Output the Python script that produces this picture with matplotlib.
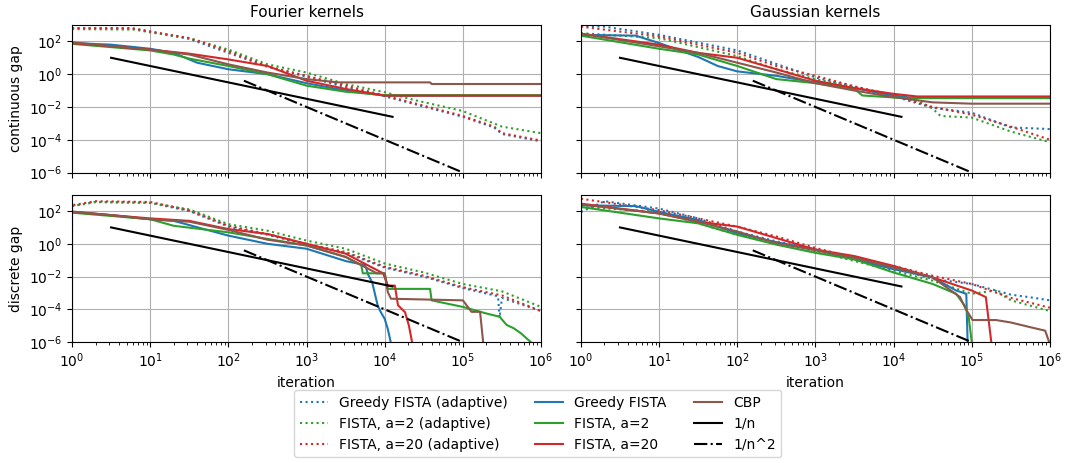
import numpy as np
from matplotlib import pyplot as plt

#############################################
# values as (log10 iteration, log10 gap)
#############################################

# Fourier kernels, continuous gap
fc_greedy_ad = [(0, 2.8), (0.8, 2.78), (1.0, 2.6), (1.5, 2.15), (2.0, 1.3), (2.5, 0.45), (3.0, -0.15),
                (3.5, -0.8), (4.0, -1.35), (4.4, -1.85), (5.0, -2.6), (5.4, -3.25), (5.5, -3.65), (6.0, -4.1)]
fc_fista2_ad = [(0, 2.75), (0.8, 2.72), (1.0, 2.55), (1.5, 2.2), (2.0, 1.5), (2.5, 0.6), (3.0, 0.1),
                (3.5, -0.6), (4.0, -1.1), (4.4, -1.6), (5.0, -2.25), (5.5, -3.2), (6.0, -3.6)]
fc_fista20_ad = [(0, 2.81), (0.75, 2.81), (1.0, 2.6), (1.5, 2.2), (2.0, 1.4), (2.5, 0.48), (3.0, -0.1),
                 (3.5, -0.7), (4.0, -1.3), (4.4, -1.8), (5.0, -2.55), (5.4, -3.2), (5.5, -3.6), (6.0, -4.05)]
fc_greedy = [(0, 1.9), (0.5, 1.8), (1.0, 1.55), (1.3, 1.3), (1.6, 0.7), (2.0, 0.3), (2.5, 0.0),
             (3.0, -0.55), (3.5, -1.0), (4.0, -1.31), (6.0, -1.31)]
fc_fista2 = [(0, 1.85), (0.5, 1.65), (1.0, 1.45), (1.3, 1.2), (1.5, 0.95), (2.0, 0.5), (2.5, 0.0),
             (3.0, -0.7), (3.5, -1.07), (4.0, -1.28), (6.0, -1.28)]
fc_fista20 = [(0, 1.9), (0.5, 1.7), (1.0, 1.5), (1.5, 1.25), (2.0, 0.9), (2.5, 0.5), (3.0, -0.4),
              (3.5, -0.9), (4.0, -1.31), (6.0, -1.31)]
fc_cbp = [(0, 1.95), (0.5, 1.7), (1.0, 1.5), (1.5, 1.2), (2.0, 0.6), (2.5, 0.1), (3.0, -0.3),
          (3.4, -0.5), (4.58, -0.5), (4.6, -0.6), (6.0, -0.6)]

# Gaussian kernels, continuous gap
gc_greedy_ad = [(0, 2.95), (0.3, 2.9), (1, 2.4), (2, 1.45), (3, -0.2), (4, -1.35), (4.5, -2.05),
                (5, -2.35), (5.5, -3.25), (6, -3.35)]
gc_fista2_ad = [(0, 2.5), (1, 2.2), (2, 1.1), (2.5, 0.3), (3, -0.3), (3.5, -0.8), (4, -1.4), (4.3, -1.6),
                (4.5, -2.1), (4.6, -2.55), (5.0, -2.65), (5.5, -3.5), (6, -4.15)]
gc_fista20_ad = [(0, 2.9), (1, 2.3), (2, 1.3), (2.5, 0.5), (3, -0.1), (3.5, -0.74), (4, -1.3),
                 (4.5, -2.0), (5, -2.47), (5.5, -3.2), (6, -4.0)]
gc_greedy = [(0, 2.4), (0.7, 2.35), (1, 1.9), (1.5, 1.05), (1.75, 0.5), (2, 0.17), (2.5, -0.1),
             (3, -0.5), (3.5, -0.85), (4, -1.3), (4.2, -1.42), (6, -1.42)]
gc_fista2 = [(0, 2.35), (1, 1.55), (1.5, 1.2), (2, 0.5), (2.5, -0.3), (3, -0.55), (3.5, -0.9),
             (3.6, -1.3), (4.0, -1.42), (4.2, -1.46), (6, -1.46)]
gc_fista20 = [(0, 2.47), (1, 1.8), (1.5, 1.3), (2, 1.0), (2.5, 0.3), (3, -0.4), (3.5, -0.85),
              (4, -1.2), (4.3, -1.36), (6, -1.36)]
gc_cbp = [(0, 2.47), (1, 1.7), (1.5, 1.3), (2, 0.7), (2.5, 0.1), (3, -0.55), (3.5, -1.0),
          (4, -1.4), (4.5, -1.72), (5, -1.8), (6, -1.8)]

# Fourier kernels, discrete gap
fd_greedy_ad = [(0, 2.3), (0.3, 2.55), (1, 2.5), (1.5, 2.0), (2, 1.05), (2.5, 0.55), (3, -0.05),
                (3.5, -0.55), (4, -1.45), (4.5, -2.0), (5, -2.7), (5.45, -3.2), (5.47, -4.5),
                (5.5, -3.3), (6, -4.1)]
fd_fista2_ad = [(0, 2.3), (0.3, 2.55), (1, 2.5), (1.5, 2.1), (2, 1.2), (2.5, 0.8), (3, 0.2),
                (3.5, -0.3), (4, -1.2), (4.5, -1.75), (5, -2.45), (5.5, -2.9), (6, -3.85)]
fd_fista20_ad = [(0, -7), (0, 2.35), (0.3, 2.6), (1, 2.55), (1.5, 2.04), (2, 1.1), (2.5, 0.6),
                 (3, 0.0), (3.5, -0.5), (4, -1.4), (4.5, -1.95), (5, -2.65), (5.5, -3.15), (6, -4.1)]
fd_greedy = [(0, 1.94), (0.5, 1.75), (1, 1.5), (1.3, 1.4), (2, 0.5), (2.5, 0.0), (3, -0.3),
             (3.5, -1.05), (3.75, -1.3), (3.79, -1.9), (3.84, -2.35), (3.91, -3.76), (3.95, -4.17),
             (4.0, -4.58), (4.04, -5.2), (4.1, -6.5)]
fd_fista2 = [(0, 1.9), (0.5, 1.7), (1, 1.5), (1.3, 1.1), (2, 0.7), (2.5, 0.3), (3, -0.1),
             (3.5, -0.8), (3.7, -1.3), (3.72, -1.8), (4.0, -1.8), (4.04, -2.75), (4.58, -2.75),
             (4.6, -3.45), (4.8, -3.65), (5.0, -3.85), (5.3, -4.25), (5.47, -4.45), (5.56, -4.95),
             (5.65, -5.15), (5.74, -5.45), (5.87, -6.0), (5.95, -6.3)]
fd_fista20 = [(0, 1.95), (0.5, 1.75), (1, 1.55), (1.5, 1.4), (2, 0.9), (2.5, 0.6), (3, 0.0),
              (3.5, -0.6), (3.98, -1.8), (4.04, -2.55), (4.13, -2.55), (4.17, -3.75), (4.26, -4.17),
              (4.31, -5.0), (4.35, -6.0), (4.38, -6.5)]
fd_cbp = [(0, 1.97), (0.5, 1.75), (1, 1.5), (1.5, 1.35), (2, 0.85), (2.5, 0.25), (3, -0.1),
          (3.5, -0.8), (3.9, -1.8), (4.0, -1.8), (4.04, -2.95), (4.08, -3.35), (5.0, -3.45),
          (5.11, -4.15), (5.22, -4.15), (5.27, -6.5)]

# Gaussian kernels, discrete gap
gd_greedy_ad = [(0, 1.94), (0.3, 2.6), (1, 2.15), (1.5, 1.55), (2, 0.75), (2.5, 0.15), (3, -0.35),
                (3.5, -0.85), (4, -1.45), (4.5, -2.15), (5, -2.45), (5.5, -3.1), (5.8, -3.3), (6, -3.45)]
gd_fista2_ad = [(0, 2.25), (1, 1.95), (2, 0.55), (3, -0.45), (3.5, -1.05), (4, -1.65), (4.5, -2.25),
                (5, -3.05), (5.3, -2.85), (5.5, -3.45), (6, -4.1)]
gd_fista20_ad = [(0, 2.75), (1, 2.05), (1.5, 1.55), (2, 1.05), (2.5, 0.45), (3, -0.25), (3.5, -0.85),
                 (4, -1.35), (4.5, -1.95), (5, -2.45), (5.5, -3.3), (6, -3.9)]
gd_greedy = [(0, 2.35), (0.7, 2.3), (1, 1.95), (1.5, 1.45), (2, 0.65), (2.5, 0.1), (3, -0.35),
             (3.5, -0.95), (4, -1.55), (4.5, -2.05), (4.8, -2.85), (4.93, -3.05), (4.95, -6.5)]
gd_fista2 = [(0, 2.25), (1, 1.55), (1.5, 1.25), (2, 0.55), (2.5, -0.05), (3, -0.55), (3.5, -0.95),
             (4, -1.75), (4.5, -2.45), (4.8, -3.05), (4.92, -3.85), (4.96, -4.45), (5.0, -6.0), (5.02, -6.5)]
gd_fista20 = [(0, 2.45), (1, 1.85), (1.5, 1.35), (2, 1.05), (2.5, 0.35), (3, -0.35), (3.5, -0.75),
              (4, -1.35), (4.5, -2.05), (5, -2.85), (5.18, -3.25), (5.25, -6.0), (5.27, -6.5)]
gd_cbp = [(0, 2.4), (1, 1.85), (1.5, 1.35), (2, 0.75), (2.5, 0.05), (3, -0.4), (3.5, -0.85),
          (4, -1.45), (4.5, -2.05), (4.85, -3.25), (4.92, -3.95), (5.01, -4.65), (5.31, -4.65),
          (5.5, -4.8), (5.76, -5.1), (5.94, -5.3), (5.99, -6.0), (6.0, -6.5)]

# reference rates (end points)
rate1_n = [3.16, 1.26e4]
rate1_gap = [10.0, 2.5e-3]
rate2_n = [158, 1e5]
rate2_gap = [0.4, 1e-6]

labels = ["Greedy FISTA (adaptive)", "FISTA, a=2 (adaptive)", "FISTA, a=20 (adaptive)",
          "Greedy FISTA", "FISTA, a=2", "FISTA, a=20", "CBP"]
colors = ["tab:blue", "tab:green", "tab:red", "tab:blue", "tab:green", "tab:red", "tab:brown"]
styles = [":", ":", ":", "-", "-", "-", "-"]

titles = ["Fourier kernels", "Gaussian kernels"]
ylabels = ["continuous gap", "discrete gap"]

panels = [[[fc_greedy_ad, fc_fista2_ad, fc_fista20_ad, fc_greedy, fc_fista2, fc_fista20, fc_cbp],
           [gc_greedy_ad, gc_fista2_ad, gc_fista20_ad, gc_greedy, gc_fista2, gc_fista20, gc_cbp]],
          [[fd_greedy_ad, fd_fista2_ad, fd_fista20_ad, fd_greedy, fd_fista2, fd_fista20, fd_cbp],
           [gd_greedy_ad, gd_fista2_ad, gd_fista20_ad, gd_greedy, gd_fista2, gd_fista20, gd_cbp]]]

#############################################
fig, axes = plt.subplots(2, 2, figsize=(10.67, 4.63), dpi=100, sharex=True, sharey=True)
fig.subplots_adjust(left=0.0675, right=0.984, top=0.946, bottom=0.261, wspace=0.085, hspace=0.15)

for r in range(2):
    for c in range(2):
        ax = axes[r, c]
        for pts, col, ls, lab in zip(panels[r][c], colors, styles, labels):
            pts = np.array(pts)
            ax.plot(10.0**pts[:, 0], 10.0**pts[:, 1], color=col, linestyle=ls, lw=1.5, label=lab)
        ax.plot(rate1_n, rate1_gap, color="black", lw=1.5, label="1/n")
        ax.plot(rate2_n, rate2_gap, color="black", linestyle="-.", lw=1.5, label="1/n^2")
        ax.set_xscale("log")
        ax.set_yscale("log")
        ax.set_xlim(1, 1e6)
        ax.set_ylim(1e-6, 1e3)
        ax.set_yticks([1e-6, 1e-4, 1e-2, 1e0, 1e2])
        ax.yaxis.set_minor_locator(plt.NullLocator())
        ax.grid(True, color="#b0b0b0", lw=0.8)
        ax.tick_params(labelsize=10)
        if r == 0:
            ax.set_title(titles[c], fontsize=11)
        else:
            ax.set_xlabel("iteration", fontsize=10)
        if c == 0:
            ax.set_ylabel(ylabels[r], fontsize=10)

handles, labs = axes[0, 0].get_legend_handles_labels()
fig.legend(handles, labs, loc="center", bbox_to_anchor=(0.504, 0.085), ncol=3, fontsize=10)

plt.savefig("out.png", dpi=100)
